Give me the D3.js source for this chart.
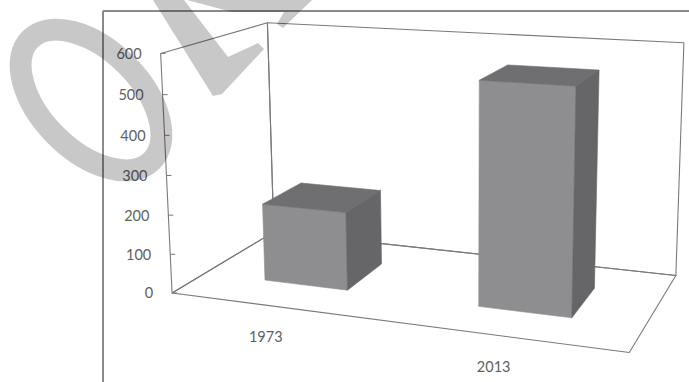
<!DOCTYPE html>
<html>
<head>
<meta charset="utf-8">
<script src="https://cdnjs.cloudflare.com/ajax/libs/d3/7.8.5/d3.min.js"></script>
<style>
  body { margin: 0; background: #fff; }
  svg { display: block; }
</style>
</head>
<body>
<div id="chart"></div>
<script>

// data
var years = ["1973", "2013"]
var values = [200, 550]
var yTicks = [0, 100, 200, 300, 400, 500, 600]

var W = 689, H = 382

// where the corners of the 3d box land on screen (x: 0..2 categories, h: 0..1 of value axis, z: 0 front .. 1 back)
var boxCorners = [
  { w: [0, 0, 0], s: [172, 293] },
  { w: [0, 1, 0], s: [161, 53] },
  { w: [0, 0, 1], s: [274, 232] },
  { w: [0, 1, 1], s: [267, 23] },
  { w: [2, 1, 1], s: [684, 43] },
  { w: [2, 0, 1], s: [676, 275] },
  { w: [2, 0, 0], s: [629, 353] }
]

// fit a perspective camera (DLT) through the corners
function solve(A, b)
{
  var n = b.length
  for (var i = 0; i < n; i++) {
    var p = i
    for (var k = i + 1; k < n; k++) if (Math.abs(A[k][i]) > Math.abs(A[p][i])) p = k
    var t = A[i]; A[i] = A[p]; A[p] = t
    var tb = b[i]; b[i] = b[p]; b[p] = tb
    for (var k = i + 1; k < n; k++) {
      var f = A[k][i] / A[i][i]
      for (var j = i; j < n; j++) A[k][j] -= f * A[i][j]
      b[k] -= f * b[i]
    }
  }
  var x = new Array(n).fill(0)
  for (var i = n - 1; i >= 0; i--) {
    var s = b[i]
    for (var j = i + 1; j < n; j++) s -= A[i][j] * x[j]
    x[i] = s / A[i][i]
  }
  return x
}

function fitCamera(pts)
{
  var rows = [], rhs = []
  pts.forEach(function(p) {
    var X = p.w[0], Y = p.w[1], Z = p.w[2], u = p.s[0], v = p.s[1]
    rows.push([X, Y, Z, 1, 0, 0, 0, 0, -u * X, -u * Y, -u * Z]); rhs.push(u)
    rows.push([0, 0, 0, 0, X, Y, Z, 1, -v * X, -v * Y, -v * Z]); rhs.push(v)
  })
  var M = [], r = []
  for (var i = 0; i < 11; i++) {
    M.push(new Array(11).fill(0)); r.push(0)
    for (var k = 0; k < rows.length; k++) {
      r[i] += rows[k][i] * rhs[k]
      for (var j = 0; j < 11; j++) M[i][j] += rows[k][i] * rows[k][j]
    }
  }
  return solve(M, r)
}

var cam = fitCamera(boxCorners)

function project(X, Y, Z)
{
  var d = cam[8] * X + cam[9] * Y + cam[10] * Z + 1
  return [
    (cam[0] * X + cam[1] * Y + cam[2] * Z + cam[3]) / d,
    (cam[4] * X + cam[5] * Y + cam[6] * Z + cam[7]) / d
  ]
}

var xScale = d3.scaleBand().domain(years).range([0, 2]).paddingInner(0.6).paddingOuter(0.3)
var zScale = d3.scaleBand().domain(["s"]).range([0, 1]).paddingOuter(0.75)
var yScale = d3.scaleLinear().domain([0, 600]).range([0, 1])

var svg = d3.select("#chart").append("svg")
  .attr("width", W)
  .attr("height", H)

var poly = function(pts) { return "M" + pts.map(function(p) { return project(p[0], p[1], p[2]).join(",") }).join("L") + "Z" }

var lineCol = "#7a7a7a"

// walls and floor
var walls = [
  [[0, 0, 0], [0, 1, 0], [0, 1, 1], [0, 0, 1]],
  [[0, 0, 1], [0, 1, 1], [2, 1, 1], [2, 0, 1]],
  [[0, 0, 0], [2, 0, 0], [2, 0, 1], [0, 0, 1]]
]
svg.selectAll(".wall")
  .data(walls)
  .enter()
  .append("path")
  .attr("class", "wall")
  .attr("d", poly)
  .attr("fill", "none")
  .attr("stroke", lineCol)
  .attr("stroke-width", 1.1)
  .attr("stroke-linejoin", "round")

// value ticks on the front left edge
var tickG = svg.selectAll(".tick")
  .data(yTicks)
  .enter()
  .append("g")
  .attr("class", "tick")

tickG.append("line")
  .attr("x1", function(d) { return project(0, yScale(d), 0)[0] })
  .attr("y1", function(d) { return project(0, yScale(d), 0)[1] })
  .attr("x2", function(d) { return project(0, yScale(d), 0)[0] + 5 })
  .attr("y2", function(d) { return project(0, yScale(d), 0)[1] })
  .attr("stroke", lineCol)

tickG.append("text")
  .attr("x", function(d) { return project(0, yScale(d), 0)[0] - 19 })
  .attr("y", function(d) { return project(0, yScale(d), 0)[1] })
  .attr("dy", "0.38em")
  .attr("text-anchor", "end")
  .attr("font-family", "Lato, 'Open Sans', sans-serif")
  .attr("font-size", 14.5)
  .attr("fill", "#606060")
  .text(function(d) { return d })

// category labels
svg.selectAll(".cat")
  .data(years)
  .enter()
  .append("text")
  .attr("class", "cat")
  .attr("x", function(d) { return project(xScale(d) + xScale.bandwidth() / 2, 0, 0)[0] - 10 })
  .attr("y", function(d) { return project(xScale(d) + xScale.bandwidth() / 2, 0, 0)[1] + 30 })
  .attr("dy", "0.38em")
  .attr("text-anchor", "middle")
  .attr("font-family", "Lato, 'Open Sans', sans-serif")
  .attr("font-size", 14.5)
  .attr("fill", "#606060")
  .text(function(d) { return d })

// bars: front, top and right side faces
var z0 = zScale("s"), z1 = zScale("s") + zScale.bandwidth()
var bars = svg.selectAll(".bar")
  .data(years.map(function(y, i) { return { year: y, value: values[i] } }))
  .enter()
  .append("g")
  .attr("class", "bar")

function faces(d)
{
  var x0 = xScale(d.year), x1 = x0 + xScale.bandwidth(), h = yScale(d.value)
  return [
    { pts: [[x0, 0, z0], [x1, 0, z0], [x1, h, z0], [x0, h, z0]], col: "#8e8e90" },
    { pts: [[x0, h, z0], [x1, h, z0], [x1, h, z1], [x0, h, z1]], col: "#6f6f71" },
    { pts: [[x1, 0, z0], [x1, 0, z1], [x1, h, z1], [x1, h, z0]], col: "#666668" }
  ]
}

bars.selectAll("path")
  .data(faces)
  .enter()
  .append("path")
  .attr("d", function(f) { return poly(f.pts) })
  .attr("fill", function(f) { return f.col })
  .attr("stroke", function(f) { return f.col })
  .attr("stroke-width", 0.6)

// frame of the picture
svg.append("line").attr("x1", 103).attr("y1", 11).attr("x2", W).attr("y2", 11)
  .attr("stroke", "#8a8a8a").attr("stroke-width", 2)
svg.append("line").attr("x1", 103).attr("y1", 11).attr("x2", 103).attr("y2", H)
  .attr("stroke", "#8a8a8a").attr("stroke-width", 2)

// watermark
var mark = svg.append("g").attr("opacity", 0.21)
mark.append("ellipse")
  .attr("cx", 91).attr("cy", 100)
  .attr("rx", 86).attr("ry", 50)
  .attr("transform", "rotate(45,91,100)")
  .attr("fill", "none")
  .attr("stroke", "#000")
  .attr("stroke-width", 22)
mark.append("path")
  .attr("d", "M153,0L184,0L228,57L258,43L264,49L222,94L213,96Z")
  .attr("fill", "#000")
mark.append("path")
  .attr("d", "M187,0L312,0L283,28L277,24L284,12L232,12Z")
  .attr("fill", "#000")

</script>
</body>
</html>
